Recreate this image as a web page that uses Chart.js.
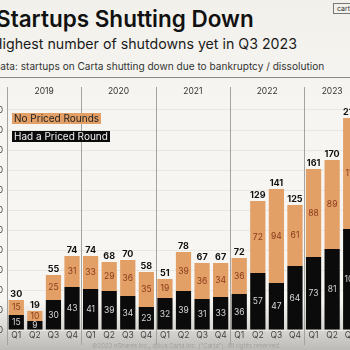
<!DOCTYPE html>
<html>
<head>
<meta charset="utf-8">
<script src="https://cdn.jsdelivr.net/npm/chart.js@4.4.1/dist/chart.umd.min.js"></script>
<style>
  html, body { margin: 0; padding: 0; }
  body {
    width: 350px; height: 350px; overflow: hidden; position: relative;
    font-family: Inter, "Noto Sans", sans-serif;
    background: linear-gradient(to bottom, #f2f0eb 0%, #f7f5f1 30%, #f8f6f2 86%, #d4d2ce 95%, #bdbbb8 100%);
  }
  #title { position: absolute; left: -4px; top: 5px; font-size: 22.5px; font-weight: 600; color: #111; white-space: nowrap; }
  #sub { position: absolute; left: -8px; top: 35px; font-size: 14.2px; color: #1a1a1a; white-space: nowrap; }
  #src { position: absolute; left: -7px; top: 60px; font-size: 10.1px; color: #333; white-space: nowrap; }
  #rule { position: absolute; left: 0; top: 77px; width: 350px; height: 1px; background: #8a8a8a; }
  #logo { position: absolute; left: 333px; top: 3px; font-size: 7px; line-height: 7px; padding: 1px 3px; border: 1px solid #777; color: #333; white-space: nowrap; }
  .lg { position: absolute; left: 12px; font-size: 10px; line-height: 11px; padding: 0 2px; white-space: nowrap; }
  #lg1 { top: 113px; background: #e29f66; color: #222; }
  #lg2 { top: 131px; background: #0b0b0b; color: #f2f2f2; }
  #foot { position: absolute; left: 92px; top: 342px; font-size: 6px; color: #a3a19e; white-space: nowrap; }
  #wrap { position: absolute; left: -40px; top: 80px; width: 400px; height: 270px; }
</style>
</head>
<body>
<div id="title">Startups Shutting Down</div>
<div id="sub">Highest number of shutdowns yet in Q3 2023</div>
<div id="src">Data: startups on Carta shutting down due to bankruptcy / dissolution</div>
<div id="rule"></div>
<div id="logo">carta</div>
<div id="wrap"><canvas id="chart"></canvas></div>
<div class="lg" id="lg1">No Priced Rounds</div>
<div class="lg" id="lg2">Had a Priced Round</div>
<div id="foot">©2023 eShares Inc., d/b/a Carta Inc. ("Carta"). All rights reserved.</div>
<script>
const quarters = ['Q1','Q2','Q3','Q4','Q1','Q2','Q3','Q4','Q1','Q2','Q3','Q4','Q1','Q2','Q3','Q4','Q1','Q2','Q3'];
const years = ['2019','2020','2021','2022','2023'];
const hadPriced = [15, 9, 30, 43, 41, 39, 34, 23, 32, 39, 31, 33, 36, 57, 47, 64, 73, 81, 101];
const noPriced = [15, 10, 25, 31, 33, 29, 36, 35, 19, 39, 36, 34, 36, 72, 94, 61, 88, 89, 111];
const totals = hadPriced.map((v, i) => v + noPriced[i]);

// year separators + year names + numbers in/above the bars
const decorPlugin = {
  id: 'decor',
  afterDatasetsDraw(chart) {
    const ctx = chart.ctx;
    const x = chart.scales.x, y = chart.scales.y;
    const half = (x.getPixelForValue(1) - x.getPixelForValue(0)) / 2;
    ctx.save();
    years.forEach((yr, k) => {
      const first = k * 4;
      const last = Math.min(first + 3, quarters.length - 1);
      const left = x.getPixelForValue(first) - half;
      const right = x.getPixelForValue(last) + half;
      ctx.strokeStyle = '#a5a3a0';
      ctx.lineWidth = 1;
      ctx.beginPath();
      ctx.moveTo(Math.round(left) + 0.5, 7);
      ctx.lineTo(Math.round(left) + 0.5, 265);
      ctx.stroke();
      ctx.fillStyle = '#333';
      ctx.font = '8.5px Inter';
      ctx.textAlign = 'center';
      ctx.textBaseline = 'middle';
      ctx.fillText(yr, (left + right) / 2, 11);
    });
    quarters.forEach((q, i) => {
      const cx = x.getPixelForValue(i);
      const y0 = y.getPixelForValue(0);
      const y1 = y.getPixelForValue(hadPriced[i]);
      const y2 = y.getPixelForValue(totals[i]);
      ctx.textAlign = 'center';
      ctx.textBaseline = 'middle';
      ctx.font = '8.5px Inter';
      ctx.fillStyle = '#d6d6d6';
      ctx.fillText(hadPriced[i], cx, (y0 + y1) / 2);
      ctx.fillStyle = '#8a3b1c';
      ctx.fillText(noPriced[i], cx, (y1 + y2) / 2);
      ctx.fillStyle = '#111';
      ctx.font = 'bold 9px Inter';
      ctx.textBaseline = 'bottom';
      ctx.fillText(totals[i], cx, y2 - 1);
    });
    ctx.restore();
  }
};

new Chart(document.getElementById('chart'), {
  type: 'bar',
  data: {
    labels: quarters,
    datasets: [{
      label: 'Had a Priced Round',
      data: hadPriced,
      backgroundColor: '#0b0b0b',
      barPercentage: 0.82,
      categoryPercentage: 1
    }, {
      label: 'No Priced Rounds',
      data: noPriced,
      backgroundColor: '#e29f66',
      barPercentage: 0.82,
      categoryPercentage: 1
    }]
  },
  options: {
    responsive: true,
    maintainAspectRatio: false,
    animation: false,
    layout: { padding: { top: 15, right: 0, left: 0, bottom: 0 } },
    plugins: {
      legend: { display: false },
      tooltip: { enabled: false }
    },
    scales: {
      x: {
        stacked: true,
        grid: { display: false, drawTicks: false },
        border: { display: false },
        ticks: { color: '#444', font: { family: 'Inter', size: 8.5 }, padding: 0 },
        afterFit: (s) => { s.height = 20; }
      },
      y: {
        stacked: true,
        min: 0,
        max: 235,
        border: { display: false },
        grid: { color: '#e9e7e2', drawTicks: false },
        ticks: { stepSize: 20, color: '#444', font: { family: 'Inter', size: 8.5 }, padding: 4 },
        afterBuildTicks: (s) => { s.ticks = s.ticks.filter(t => t.value % 20 === 0); },
        afterFit: (s) => { s.width = 47; }
      }
    }
  },
  plugins: [decorPlugin]
});
</script>
</body>
</html>
